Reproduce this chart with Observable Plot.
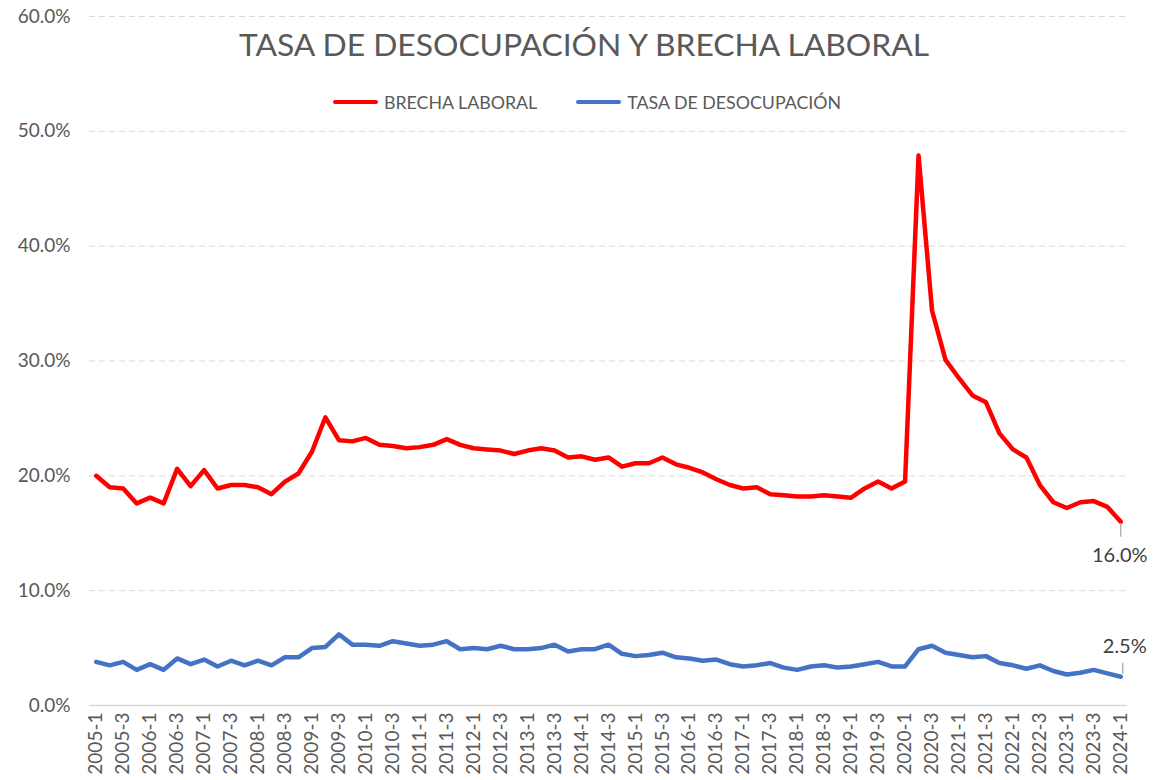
<!DOCTYPE html>
<html>
<head>
<meta charset="utf-8">
<script src="https://cdn.jsdelivr.net/npm/d3@7"></script>
<script src="https://cdn.jsdelivr.net/npm/@observablehq/plot@0.6"></script>
<style>
  html, body { margin: 0; padding: 0; background: #fff; }
  #wrap { position: relative; width: 1164px; height: 780px; font-family: Lato, "Open Sans", sans-serif; }
  #title { position: absolute; left: 0; width: 1168px; top: 28px; text-align: center; font-size: 31.8px; line-height: 32px; color: #595959; white-space: nowrap; }
  #legend { position: absolute; left: 0; width: 1174px; top: 91px; display: flex; justify-content: center; align-items: center; font-size: 17.8px; line-height: 22px; color: #595959; }
  .sw { display: inline-block; width: 45px; height: 4.5px; border-radius: 3px; margin-right: 6px; }
  .item { display: flex; align-items: center; margin: 0 19.5px; }
</style>
</head>
<body>
<div id="wrap">
  <div id="chart"></div>
  <div id="title"></div>
  <div id="legend"></div>
</div>
<script>
const chartTitle = "TASA DE DESOCUPACIÓN Y BRECHA LABORAL";
const seriesNames = ["BRECHA LABORAL", "TASA DE DESOCUPACIÓN"];
const seriesColors = ["#ff0000", "#4472c4"];

const quarters = [
  "2005-1","2005-2","2005-3","2005-4","2006-1","2006-2","2006-3","2006-4",
  "2007-1","2007-2","2007-3","2007-4","2008-1","2008-2","2008-3","2008-4",
  "2009-1","2009-2","2009-3","2009-4","2010-1","2010-2","2010-3","2010-4",
  "2011-1","2011-2","2011-3","2011-4","2012-1","2012-2","2012-3","2012-4",
  "2013-1","2013-2","2013-3","2013-4","2014-1","2014-2","2014-3","2014-4",
  "2015-1","2015-2","2015-3","2015-4","2016-1","2016-2","2016-3","2016-4",
  "2017-1","2017-2","2017-3","2017-4","2018-1","2018-2","2018-3","2018-4",
  "2019-1","2019-2","2019-3","2019-4","2020-1","2020-2","2020-3","2020-4",
  "2021-1","2021-2","2021-3","2021-4","2022-1","2022-2","2022-3","2022-4",
  "2023-1","2023-2","2023-3","2023-4","2024-1"
];

const brechaLaboral = [
  20.0, 19.0, 18.9, 17.6, 18.1, 17.6, 20.6, 19.1,
  20.5, 18.9, 19.2, 19.2, 19.0, 18.4, 19.5, 20.2,
  22.1, 25.1, 23.1, 23.0, 23.3, 22.7, 22.6, 22.4,
  22.5, 22.7, 23.2, 22.7, 22.4, 22.3, 22.2, 21.9,
  22.2, 22.4, 22.2, 21.6, 21.7, 21.4, 21.6, 20.8,
  21.1, 21.1, 21.6, 21.0, 20.7, 20.3, 19.7, 19.2,
  18.9, 19.0, 18.4, 18.3, 18.2, 18.2, 18.3, 18.2,
  18.1, 18.9, 19.5, 18.9, 19.5, 47.9, 34.4, 30.1,
  28.5, 27.0, 26.4, 23.7, 22.3, 21.6, 19.2, 17.7,
  17.2, 17.7, 17.8, 17.3, 16.0
];

const tasaDesocupacion = [
  3.8, 3.5, 3.8, 3.1, 3.6, 3.1, 4.1, 3.6,
  4.0, 3.4, 3.9, 3.5, 3.9, 3.5, 4.2, 4.2,
  5.0, 5.1, 6.2, 5.3, 5.3, 5.2, 5.6, 5.4,
  5.2, 5.3, 5.6, 4.9, 5.0, 4.9, 5.2, 4.9,
  4.9, 5.0, 5.3, 4.7, 4.9, 4.9, 5.3, 4.5,
  4.3, 4.4, 4.6, 4.2, 4.1, 3.9, 4.0, 3.6,
  3.4, 3.5, 3.7, 3.3, 3.1, 3.4, 3.5, 3.3,
  3.4, 3.6, 3.8, 3.4, 3.4, 4.9, 5.2, 4.6,
  4.4, 4.2, 4.3, 3.7, 3.5, 3.2, 3.5, 3.0,
  2.7, 2.85, 3.1, 2.8, 2.5
];

const xTickLabels = [
  "2005-1","2005-3","2006-1","2006-3","2007-1","2007-3","2008-1","2008-3",
  "2009-1","2009-3","2010-1","2010-3","2011-1","2011-3","2012-1","2012-3",
  "2013-1","2013-3","2014-1","2014-3","2015-1","2015-3","2016-1","2016-3",
  "2017-1","2017-3","2018-1","2018-3","2019-1","2019-3","2020-1","2020-3",
  "2021-1","2021-3","2022-1","2022-3","2023-1","2023-3","2024-1"
];
const yTickValues = [0, 10, 20, 30, 40, 50, 60];

const rows = quarters.map((q, i) => ({ q, brecha: brechaLaboral[i], tasa: tasaDesocupacion[i] }));
const last = rows[rows.length - 1];
const fmt = v => v.toFixed(1) + "%";

const chart = Plot.plot({
  width: 1164,
  height: 780,
  marginLeft: 89,
  marginRight: 37,
  marginTop: 16,
  marginBottom: 75,
  style: { fontFamily: "Lato, 'Open Sans', sans-serif", background: "white", color: "#595959" },
  x: { type: "point", domain: quarters, padding: 0.5 },
  y: { domain: [0, 60] },
  marks: [
    Plot.ruleY(yTickValues.filter(v => v > 0), { stroke: "#d9d9d9", strokeWidth: 1, strokeDasharray: "6,4" }),
    Plot.ruleY([0], { stroke: "#d9d9d9", strokeWidth: 1.5 }),
    Plot.axisY({ ticks: yTickValues, tickSize: 0, tickPadding: 19, tickFormat: fmt, fontSize: 19, fill: "#595959", label: null }),
    Plot.axisX({ ticks: xTickLabels, tickSize: 0, tickRotate: -90, tickPadding: 7, fontSize: 19, fill: "#595959", label: null }),
    Plot.lineY(rows, { x: "q", y: "brecha", stroke: seriesColors[0], strokeWidth: 4.5, strokeLinejoin: "round", strokeLinecap: "round" }),
    Plot.lineY(rows, { x: "q", y: "tasa", stroke: seriesColors[1], strokeWidth: 4.5, strokeLinejoin: "round", strokeLinecap: "round" }),
    Plot.ruleX([last], { x: "q", y1: d => d.brecha - 0.15, y2: d => d.brecha - 1.35, stroke: "#a6a6a6", strokeWidth: 1.2 }),
    Plot.ruleX([last], { x: "q", y1: d => d.tasa + 0.2, y2: d => d.tasa + 1.2, dx: 2, stroke: "#a6a6a6", strokeWidth: 1.2 }),
    Plot.text([last], { x: "q", y: "brecha", text: d => fmt(d.brecha), dy: 34, dx: -1, fontSize: 20, fill: "#404040" }),
    Plot.text([last], { x: "q", y: "tasa", text: d => fmt(d.tasa), dy: -30, dx: 4, fontSize: 20, fill: "#404040" })
  ]
});
document.getElementById("chart").appendChild(chart);

document.getElementById("title").textContent = chartTitle;
const legend = document.getElementById("legend");
seriesNames.forEach((name, i) => {
  const item = document.createElement("div");
  item.className = "item";
  const sw = document.createElement("span");
  sw.className = "sw";
  sw.style.background = seriesColors[i];
  const label = document.createElement("span");
  label.textContent = name;
  item.appendChild(sw);
  item.appendChild(label);
  legend.appendChild(item);
});
</script>
</body>
</html>
